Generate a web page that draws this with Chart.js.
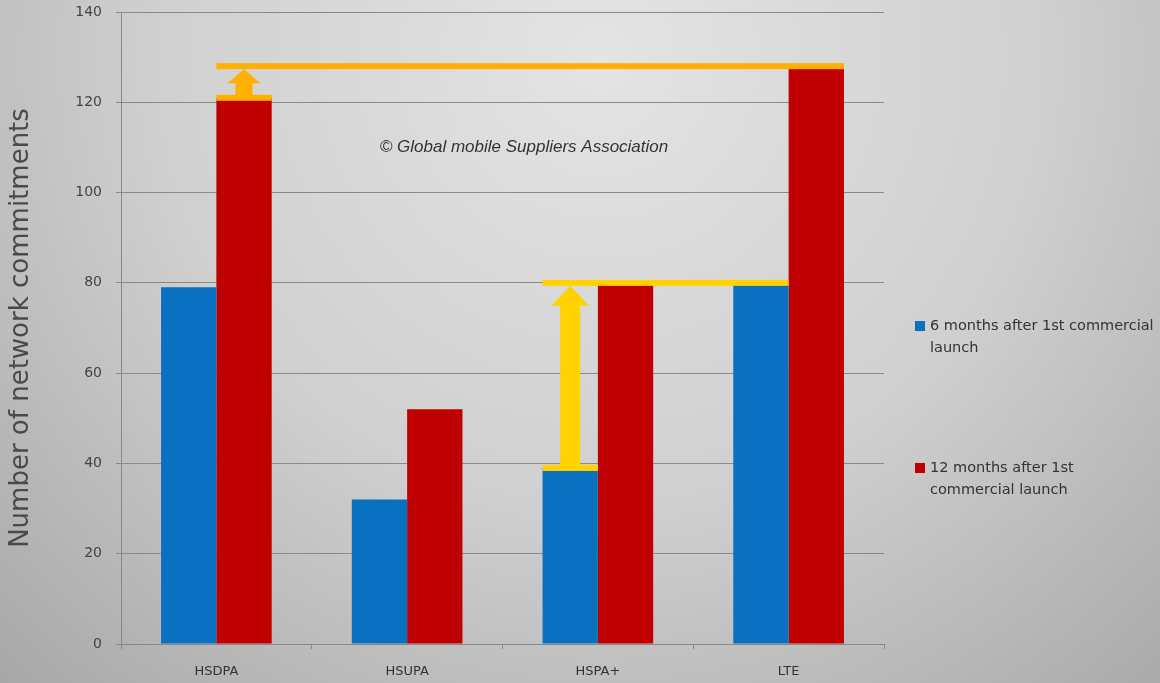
<!DOCTYPE html>
<html>
<head>
<meta charset="utf-8">
<script src="https://cdn.jsdelivr.net/npm/chart.js@4"></script>
<style>
  html, body { margin: 0; padding: 0; }
  #wrap { width: 1160px; height: 683px; position: relative; }
</style>
</head>
<body>
<div id="wrap"><canvas id="gsaChart" width="1160" height="683"></canvas></div>
<script>
// data
const technologies = ['HSDPA', 'HSUPA', 'HSPA+', 'LTE'];
const sixMonths = [79, 32, 39, 80];
const twelveMonths = [121, 52, 80, 128];
const seriesLabels = [
  ['6 months after 1st commercial', 'launch'],
  ['12 months after 1st', 'commercial launch']
];
const yTicks = [0, 20, 40, 60, 80, 100, 120, 140];
const copyrightNote = '\u00A9 Global mobile Suppliers Association';

const BLUE = '#0a70c0';
const RED = '#c00000';

// grey gradient behind everything
const backdrop = {
  id: 'backdrop',
  beforeDraw(chart) {
    const { ctx, width, height } = chart;
    const g = ctx.createRadialGradient(600, 60, 0, 600, 60, 880);
    g.addColorStop(0, '#e4e4e4');
    g.addColorStop(0.5, '#d0d0d0');
    g.addColorStop(1, '#a6a6a6');
    ctx.save();
    ctx.fillStyle = g;
    ctx.fillRect(0, 0, width, height);
    ctx.restore();
  }
};

// arrow pointing up from yFrom to yTo at bar x
function drawArrow(ctx, x, yFrom, yTo, shaftW, headW, headH) {
  ctx.beginPath();
  ctx.moveTo(x - shaftW / 2, yFrom);
  ctx.lineTo(x - shaftW / 2, yTo + headH);
  ctx.lineTo(x - headW / 2, yTo + headH);
  ctx.lineTo(x, yTo);
  ctx.lineTo(x + headW / 2, yTo + headH);
  ctx.lineTo(x + shaftW / 2, yTo + headH);
  ctx.lineTo(x + shaftW / 2, yFrom);
  ctx.closePath();
  ctx.fill();
}

function hLine(ctx, x1, x2, y, color) {
  ctx.fillStyle = color;
  ctx.fillRect(x1, y - 3, x2 - x1, 6);
}

const growthMarks = {
  id: 'growthMarks',
  afterDatasetsDraw(chart) {
    const { ctx } = chart;
    const yScale = chart.scales.y;
    const blue = chart.getDatasetMeta(0).data;
    const red = chart.getDatasetMeta(1).data;
    const left = b => b.x - b.width / 2;
    const right = b => b.x + b.width / 2;

    ctx.save();
    // HSDPA 121 -> LTE 128
    const orange = '#ffb000';
    const yTop = yScale.getPixelForValue(twelveMonths[3]);
    const yHs = yScale.getPixelForValue(twelveMonths[0]);
    hLine(ctx, left(red[0]), right(red[3]), yTop, orange);
    hLine(ctx, left(red[0]), right(red[0]), yHs, orange);
    ctx.fillStyle = orange;
    drawArrow(ctx, red[0].x, yHs - 2, yTop + 3, 17, 33, 14);

    // HSPA+ 39 -> 80 (LTE level)
    const yellow = '#ffd200';
    const yLow = yScale.getPixelForValue(sixMonths[2]);
    const yHigh = yScale.getPixelForValue(sixMonths[3]);
    hLine(ctx, left(blue[2]), right(blue[3]), yHigh, yellow);
    hLine(ctx, left(blue[2]), right(blue[2]), yLow, yellow);
    ctx.fillStyle = yellow;
    drawArrow(ctx, blue[2].x, yLow - 2, yHigh + 3, 20, 38, 20);

    // copyright note
    ctx.fillStyle = '#333';
    ctx.font = 'italic 17px "Liberation Sans", Arial, sans-serif';
    ctx.textAlign = 'center';
    ctx.textBaseline = 'middle';
    ctx.fillText(copyrightNote, 524, 147);
    ctx.restore();
  }
};

// legend on the right with wrapped labels
const sideLegend = {
  id: 'sideLegend',
  afterDraw(chart) {
    const { ctx } = chart;
    const tops = [326, 468];
    ctx.save();
    ctx.font = '14.5px "DejaVu Sans", sans-serif';
    ctx.textBaseline = 'middle';
    ctx.textAlign = 'left';
    chart.data.datasets.forEach((ds, i) => {
      ctx.fillStyle = ds.backgroundColor;
      ctx.fillRect(915, tops[i] - 5, 10, 10);
      ctx.fillStyle = '#333';
      seriesLabels[i].forEach((line, j) => {
        ctx.fillText(line, 930, tops[i] + j * 22);
      });
    });
    ctx.restore();
  }
};

const ctx = document.getElementById('gsaChart').getContext('2d');
new Chart(ctx, {
  type: 'bar',
  data: {
    labels: technologies,
    datasets: [
      { label: seriesLabels[0].join(' '), data: sixMonths, backgroundColor: BLUE },
      { label: seriesLabels[1].join(' '), data: twelveMonths, backgroundColor: RED }
    ]
  },
  plugins: [backdrop, growthMarks, sideLegend],
  options: {
    responsive: false,
    animation: false,
    layout: { padding: { left: 0, right: 276, top: 12, bottom: 0 } },
    datasets: {
      bar: { barPercentage: 1, categoryPercentage: 0.58 }
    },
    plugins: {
      legend: { display: false },
      tooltip: { enabled: false }
    },
    scales: {
      x: {
        afterFit(scale) { scale.height = 39; },
        grid: { display: true, drawOnChartArea: false, offset: true, tickLength: 5, color: '#888' },
        border: { color: '#888' },
        ticks: {
          color: '#333',
          padding: 15,
          font: { family: '"DejaVu Sans", sans-serif', size: 13 }
        }
      },
      y: {
        min: 0,
        max: 140,
        afterFit(scale) {
          scale.width = 121;
          scale.paddingTop = 0;
          scale.paddingBottom = 0;
        },
        afterBuildTicks(scale) { scale.ticks = yTicks.map(v => ({ value: v })); },
        grid: { color: '#8a8a8a', tickLength: 5 },
        border: { color: '#888' },
        ticks: {
          color: '#444',
          padding: 14,
          font: { family: '"DejaVu Sans", sans-serif', size: 14 }
        },
        title: {
          display: true,
          text: 'Number of network commitments',
          color: '#4a4a4a',
          padding: { top: 6, bottom: 0 },
          font: { family: '"DejaVu Sans", sans-serif', size: 26 }
        }
      }
    }
  }
});
</script>
</body>
</html>
